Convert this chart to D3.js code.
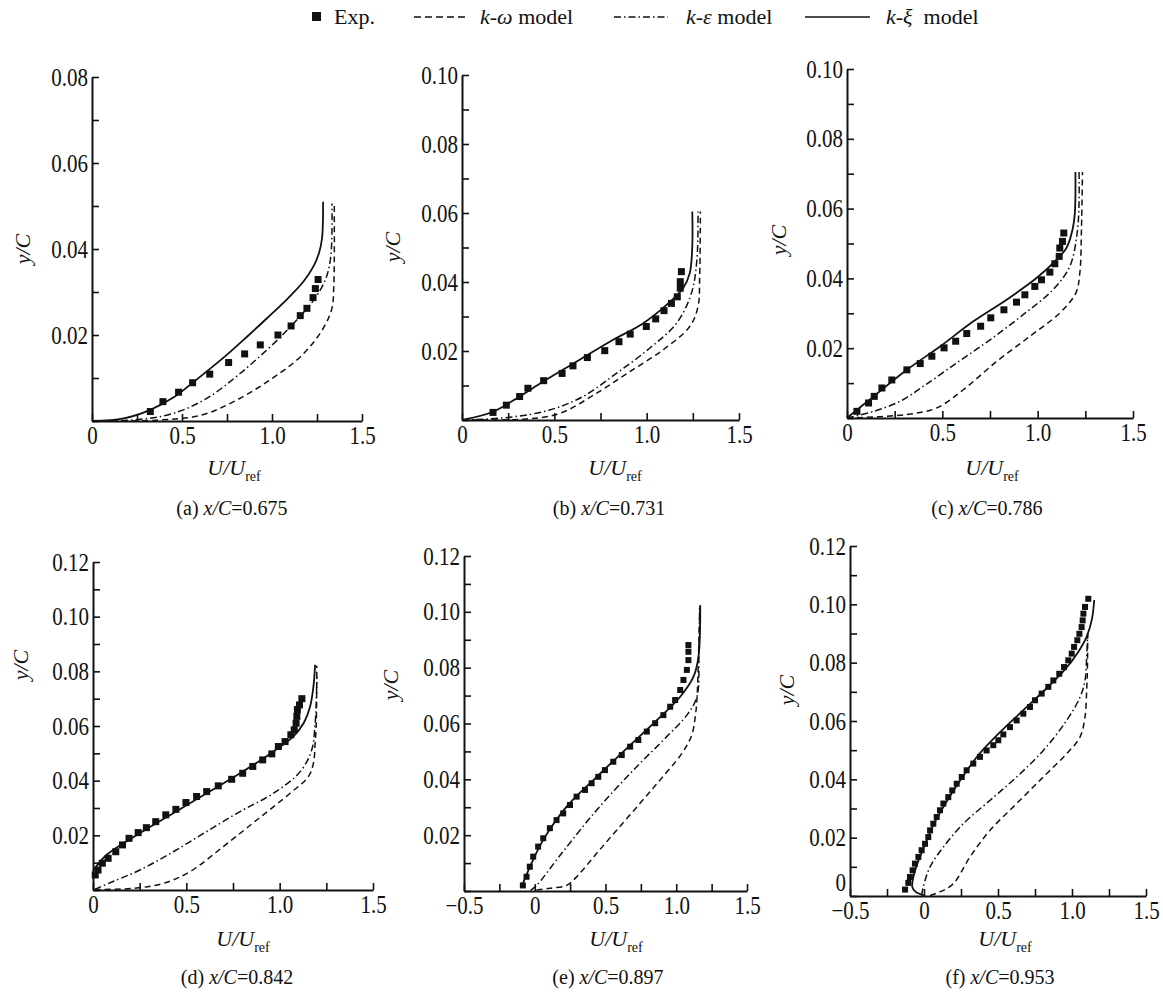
<!DOCTYPE html>
<html>
<head>
<meta charset="utf-8">
<script src="https://cdn.jsdelivr.net/npm/d3@7"></script>
<style>
  body { margin: 0; background: #fff; }
  svg { display: block; }
  text { font-family: "Liberation Serif", "Times New Roman", serif; fill: #111; }
</style>
</head>
<body>
<svg id="chart"></svg>
<script>
// ---- data: [U/Uref, y/C] pairs ----
// (a) x/C = 0.675
const expA = [[0.324,0.0022],[0.394,0.0045],[0.481,0.0067],[0.559,0.0089],[0.654,0.0109],[0.759,0.0136],[0.848,0.0156],[0.935,0.0177],[1.033,0.0200],[1.106,0.0221],[1.157,0.0245],[1.194,0.0262],[1.228,0.0287],[1.241,0.0308],[1.256,0.0329]];
const kwA = [[0,0],[0.361,0.0002],[0.602,0.0013],[0.787,0.0045],[0.972,0.0091],[1.157,0.0149],[1.278,0.0211],[1.333,0.0262],[1.343,0.0312],[1.346,0.0374],[1.346,0.0506]];
const keA = [[0,0],[0.269,0.0004],[0.454,0.0018],[0.639,0.0053],[0.824,0.0111],[1.009,0.0180],[1.120,0.0227],[1.231,0.0281],[1.296,0.0328],[1.324,0.0374],[1.333,0.0436],[1.333,0.0506]];
const kxA = [[0,0],[0.176,0.0006],[0.324,0.0026],[0.454,0.0055],[0.565,0.0091],[0.660,0.0123],[0.760,0.0158],[0.861,0.0196],[0.972,0.0239],[1.083,0.0283],[1.176,0.0325],[1.231,0.0360],[1.262,0.0392],[1.278,0.0425],[1.283,0.0467],[1.284,0.0510]];

// (b) x/C = 0.731
const expB = [[0.168,0.0022],[0.240,0.0043],[0.312,0.0068],[0.357,0.0092],[0.442,0.0114],[0.542,0.0135],[0.601,0.0157],[0.679,0.0181],[0.773,0.0201],[0.850,0.0227],[0.911,0.0249],[0.998,0.0271],[1.049,0.0293],[1.094,0.0317],[1.134,0.0338],[1.166,0.0357],[1.182,0.0382],[1.182,0.0401],[1.188,0.0430]];
const kwB = [[0,0],[0.348,0.0003],[0.529,0.0019],[0.727,0.0077],[0.908,0.0140],[1.088,0.0203],[1.233,0.0271],[1.278,0.0329],[1.287,0.0415],[1.291,0.0604]];
const keB = [[0,0],[0.258,0.0008],[0.475,0.0029],[0.655,0.0068],[0.836,0.0135],[1.016,0.0208],[1.161,0.0280],[1.242,0.0367],[1.272,0.0464],[1.278,0.0604]];
const kxB = [[0,0],[0.168,0.0024],[0.312,0.0068],[0.438,0.0111],[0.619,0.0169],[0.800,0.0227],[0.980,0.0280],[1.106,0.0333],[1.197,0.0382],[1.233,0.0425],[1.247,0.0502],[1.247,0.0604]];

// (c) x/C = 0.786
const expC = [[0.052,0.0019],[0.113,0.0043],[0.143,0.0062],[0.183,0.0086],[0.235,0.0109],[0.314,0.0138],[0.384,0.0156],[0.445,0.0177],[0.509,0.0201],[0.570,0.0220],[0.628,0.0242],[0.701,0.0263],[0.754,0.0287],[0.823,0.0310],[0.889,0.0332],[0.933,0.0353],[0.985,0.0377],[1.020,0.0396],[1.064,0.0418],[1.090,0.0442],[1.113,0.0463],[1.116,0.0487],[1.130,0.0506],[1.137,0.0530]];
const kwC = [[0,0],[0.314,0.0010],[0.471,0.0029],[0.610,0.0081],[0.785,0.0162],[0.959,0.0234],[1.116,0.0301],[1.200,0.0358],[1.221,0.0415],[1.230,0.0549],[1.235,0.0705]];
const keC = [[0,0],[0.140,0.0019],[0.279,0.0048],[0.401,0.0091],[0.576,0.0158],[0.750,0.0224],[0.924,0.0296],[1.081,0.0368],[1.169,0.0435],[1.207,0.0530],[1.217,0.0616],[1.217,0.0705]];
const kxC = [[0,0],[0.140,0.0062],[0.314,0.0138],[0.488,0.0205],[0.663,0.0277],[0.837,0.0339],[0.994,0.0401],[1.099,0.0454],[1.151,0.0487],[1.183,0.0540],[1.195,0.0587],[1.198,0.0705]];

// (d) x/C = 0.842
const expD = [[0.012,0.0055],[0.027,0.0073],[0.050,0.0098],[0.081,0.0116],[0.122,0.0140],[0.158,0.0165],[0.193,0.0189],[0.242,0.0210],[0.286,0.0228],[0.336,0.0250],[0.390,0.0275],[0.444,0.0295],[0.498,0.0320],[0.555,0.0342],[0.609,0.0360],[0.671,0.0381],[0.743,0.0405],[0.802,0.0427],[0.856,0.0452],[0.909,0.0476],[0.958,0.0498],[0.993,0.0525],[1.029,0.0543],[1.060,0.0568],[1.078,0.0586],[1.088,0.0610],[1.092,0.0635],[1.095,0.0660],[1.106,0.0677],[1.119,0.0700]];
const kwD = [[0.009,0.0002],[0.215,0.0006],[0.376,0.0024],[0.519,0.0067],[0.698,0.0159],[0.877,0.0256],[1.056,0.0354],[1.154,0.0415],[1.181,0.0464],[1.190,0.0537],[1.196,0.0610],[1.199,0.0820]];
const keD = [[0.009,0.0002],[0.107,0.0031],[0.251,0.0073],[0.430,0.0140],[0.609,0.0214],[0.788,0.0287],[0.967,0.0354],[1.110,0.0433],[1.172,0.0513],[1.190,0.0610],[1.196,0.0684],[1.199,0.0780]];
const kxD = [[0.000,0.0070],[0.072,0.0128],[0.251,0.0208],[0.430,0.0281],[0.609,0.0354],[0.788,0.0427],[0.967,0.0507],[1.074,0.0562],[1.128,0.0610],[1.163,0.0671],[1.181,0.0745],[1.190,0.0824]];

// (e) x/C = 0.897
const expE = [[-0.084,0.0020],[-0.058,0.0051],[-0.035,0.0087],[-0.011,0.0123],[0.024,0.0159],[0.060,0.0189],[0.107,0.0225],[0.154,0.0254],[0.201,0.0278],[0.249,0.0308],[0.296,0.0338],[0.355,0.0362],[0.402,0.0386],[0.449,0.0409],[0.496,0.0433],[0.555,0.0463],[0.615,0.0487],[0.674,0.0517],[0.732,0.0541],[0.792,0.0571],[0.851,0.0601],[0.909,0.0630],[0.957,0.0660],[0.992,0.0684],[1.028,0.0720],[1.051,0.0756],[1.075,0.0792],[1.086,0.0827],[1.086,0.0857],[1.086,0.0881]];
const kwE = [[0.012,0.0004],[0.107,0.0010],[0.225,0.0020],[0.307,0.0057],[0.438,0.0135],[0.579,0.0218],[0.744,0.0314],[0.886,0.0398],[1.040,0.0493],[1.110,0.0559],[1.134,0.0624],[1.146,0.0684],[1.164,0.0959],[1.169,0.1018]];
const keE = [[-0.030,0.0002],[0.013,0.0020],[0.190,0.0135],[0.438,0.0290],[0.697,0.0433],[0.933,0.0553],[1.075,0.0630],[1.146,0.0696],[1.160,0.0850],[1.165,0.1020]];
const kxE = [[-0.093,0.0015],[-0.023,0.0099],[0.060,0.0183],[0.225,0.0302],[0.438,0.0409],[0.650,0.0511],[0.863,0.0612],[1.028,0.0696],[1.122,0.0768],[1.157,0.0839],[1.169,0.0959],[1.169,0.1024]];

// (f) x/C = 0.953
const expF = [[-0.128,0.0022],[-0.106,0.0045],[-0.095,0.0065],[-0.077,0.0088],[-0.061,0.0111],[-0.038,0.0134],[-0.016,0.0157],[0.007,0.0179],[0.029,0.0202],[0.041,0.0225],[0.063,0.0248],[0.086,0.0271],[0.108,0.0294],[0.131,0.0317],[0.164,0.0339],[0.191,0.0362],[0.221,0.0385],[0.255,0.0408],[0.288,0.0431],[0.333,0.0454],[0.378,0.0477],[0.423,0.0499],[0.468,0.0517],[0.502,0.0534],[0.536,0.0554],[0.581,0.0579],[0.626,0.0602],[0.671,0.0625],[0.716,0.0648],[0.750,0.0671],[0.795,0.0694],[0.840,0.0717],[0.874,0.0739],[0.914,0.0762],[0.946,0.0785],[0.975,0.0808],[0.998,0.0831],[1.014,0.0854],[1.036,0.0877],[1.050,0.0899],[1.065,0.0922],[1.072,0.0945],[1.077,0.0968],[1.088,0.0991],[1.110,0.1019]];
const kwF = [[0.041,0.0002],[0.108,0.0014],[0.198,0.0042],[0.311,0.0134],[0.446,0.0225],[0.626,0.0317],[0.806,0.0408],[0.964,0.0488],[1.054,0.0545],[1.088,0.0614],[1.099,0.0705],[1.104,0.0774],[1.106,0.0899]];
const keF = [[-0.016,0.0002],[-0.005,0.0031],[0.041,0.0100],[0.131,0.0168],[0.266,0.0248],[0.446,0.0328],[0.626,0.0408],[0.806,0.0499],[0.964,0.0602],[1.054,0.0682],[1.088,0.0739],[1.099,0.0819],[1.106,0.0900]];
const kxF = [[0.000,0.0002],[-0.056,0.0014],[-0.079,0.0031],[-0.072,0.0065],[-0.045,0.0111],[0.000,0.0168],[0.068,0.0248],[0.158,0.0328],[0.260,0.0408],[0.370,0.0485],[0.500,0.0555],[0.660,0.0632],[0.820,0.0708],[0.950,0.0775],[1.040,0.0835],[1.100,0.0890],[1.135,0.0950],[1.150,0.1015]];

const tags = ["a", "b", "c", "d", "e", "f"];
const stations = ["0.675", "0.731", "0.786", "0.842", "0.897", "0.953"];
const xDomains = [[0, 1.5], [0, 1.5], [0, 1.5], [0, 1.5], [-0.5, 1.5], [-0.5, 1.5]];
const yTops = [0.08, 0.10, 0.10, 0.12, 0.12, 0.12];
const expSets = [expA, expB, expC, expD, expE, expF];
const kwSets = [kwA, kwB, kwC, kwD, kwE, kwF];
const keSets = [keA, keB, keC, keD, keE, keF];
const kxSets = [kxA, kxB, kxC, kxD, kxE, kxF];

// ---- layout (pixel frames of each sub-plot) ----
const frames = [
  { L: 92,  R: 362,  T: 77,  B: 421, yl: [22, 249],  tx: 234,  ty: 475, cx: 232,  cy: 515, sq: 7, zeroY: false },
  { L: 462, R: 739,  T: 75,  B: 420, yl: [392, 247], tx: 615,  ty: 475, cx: 609,  cy: 515, sq: 7, zeroY: false },
  { L: 847, R: 1133, T: 69,  B: 418, yl: [778, 240], tx: 992,  ty: 475, cx: 987,  cy: 515, sq: 7, zeroY: false },
  { L: 93,  R: 373,  T: 562, B: 890, yl: [20, 665],  tx: 243,  ty: 946, cx: 237,  cy: 984, sq: 7, zeroY: false },
  { L: 464, R: 747,  T: 556, B: 891, yl: [390, 685], tx: 616,  ty: 946, cx: 608,  cy: 984, sq: 6, zeroY: false },
  { L: 850, R: 1146, T: 546, B: 896, yl: [786, 690], tx: 1005, ty: 946, cx: 1000, cy: 984, sq: 6, zeroY: true }
];

const svg = d3.select("#chart").attr("width", 1163).attr("height", 994);

// ---- legend ----
const legendG = svg.append("g");
legendG.append("rect").attr("x", 312).attr("y", 12).attr("width", 9).attr("height", 9).attr("fill", "#111");
legendG.append("text").attr("x", 334).attr("y", 24).attr("font-size", 22).text("Exp.");
const legendItems = [
  { x1: 414, x2: 468, dash: "7,4", tx: 480, greek: "ω" },
  { x1: 614, x2: 668, dash: "7,3,1.5,3", tx: 686, greek: "ε" },
  { x1: 805, x2: 870, dash: null, tx: 886, greek: "ξ" }
];
legendItems.forEach((d) => {
  legendG.append("line")
    .attr("x1", d.x1).attr("x2", d.x2).attr("y1", 17).attr("y2", 17)
    .attr("stroke", "#111").attr("stroke-width", 1.7)
    .attr("stroke-dasharray", d.dash);
  const t = legendG.append("text").attr("x", d.tx).attr("y", 24).attr("font-size", 22);
  t.append("tspan").attr("font-style", "italic").text("k");
  t.append("tspan").text("-");
  t.append("tspan").attr("font-style", "italic").text(d.greek);
  t.append("tspan").text(d.greek === "ξ" ? "\u00a0 model" : " model");
});

// ---- panels ----
tags.forEach((tag, i) => {
  const f = frames[i];
  const x = d3.scaleLinear().domain(xDomains[i]).range([f.L, f.R]);
  const y = d3.scaleLinear().domain([0, yTops[i]]).range([f.B, f.T]);
  const g = svg.append("g");

  // y axis: ticks every 0.01, labels every 0.02
  const yTicks = d3.range(0, Math.round(yTops[i] / 0.01) + 1).map((k) => k * 0.01);
  const yAxis = d3.axisLeft(y)
    .tickValues(yTicks)
    .tickSize(-7).tickSizeOuter(0).tickPadding(4)
    .tickFormat((d, k) => (k % 2 ? "" : k === 0 ? (f.zeroY ? "0" : "") : d3.format(".2f")(d)));
  const yG = g.append("g").attr("transform", `translate(${f.L},0)`).call(yAxis);

  // x axis: ticks every 0.25, labels every 0.5
  const x0 = Math.round(xDomains[i][0] * 4), x1 = Math.round(xDomains[i][1] * 4);
  const xTicks = d3.range(x0, x1 + 1).map((k) => k / 4);
  const xAxis = d3.axisBottom(x)
    .tickValues(xTicks)
    .tickSize(-7).tickSizeOuter(0).tickPadding(4)
    .tickFormat((d) => (Math.round(d * 4) % 2 ? "" : d === 0 ? "0" : d3.format(".1f")(d)));
  const xG = g.append("g").attr("transform", `translate(0,${f.B})`).call(xAxis);

  [yG, xG].forEach((ax) => {
    ax.select(".domain").attr("stroke", "#111").attr("stroke-width", 2);
    ax.selectAll(".tick line").attr("stroke", "#111").attr("stroke-width", 1.6);
    ax.selectAll(".tick text")
      .attr("font-size", 21)
      .attr("fill", "#111")
      .attr("transform", "scale(1,1.2)");
  });
  // the y "0" label sits just above the x tick labels
  yG.selectAll(".tick text").filter((d) => d === 0).attr("dy", "-0.2em");

  // model curves
  const line = d3.line()
    .x((d) => x(d[0]))
    .y((d) => y(d[1]))
    .curve(d3.curveCatmullRom.alpha(0.5));
  const curves = [
    { data: kwSets[i], dash: "6,4", w: 1.5 },
    { data: keSets[i], dash: "7,3,1.5,3", w: 1.5 },
    { data: kxSets[i], dash: null, w: 1.8 }
  ];
  g.selectAll(".curve")
    .data(curves)
    .join("path")
    .attr("class", "curve")
    .attr("d", (d) => line(d.data))
    .attr("fill", "none")
    .attr("stroke", "#111")
    .attr("stroke-width", (d) => d.w)
    .attr("stroke-dasharray", (d) => d.dash);

  // experiment squares
  g.selectAll(".exp")
    .data(expSets[i])
    .join("rect")
    .attr("class", "exp")
    .attr("x", (d) => x(d[0]) - f.sq / 2)
    .attr("y", (d) => y(d[1]) - f.sq / 2)
    .attr("width", f.sq)
    .attr("height", f.sq)
    .attr("fill", "#111");

  // y label
  g.append("text")
    .attr("transform", `translate(${f.yl[0]},${f.yl[1]}) rotate(-90)`)
    .attr("text-anchor", "middle")
    .attr("dy", "0.35em")
    .attr("font-size", 22)
    .attr("font-style", "italic")
    .text("y/C");

  // x title U/U_ref
  const xt = g.append("text")
    .attr("x", f.tx).attr("y", f.ty)
    .attr("text-anchor", "middle")
    .attr("font-size", 22);
  xt.append("tspan").attr("font-style", "italic").text("U/U");
  xt.append("tspan").attr("font-size", 14).attr("dy", 6).text("ref");

  // caption
  const cap = g.append("text")
    .attr("x", f.cx).attr("y", f.cy)
    .attr("text-anchor", "middle")
    .attr("font-size", 20);
  cap.append("tspan").text(`(${tag}) `);
  cap.append("tspan").attr("font-style", "italic").text("x/C");
  cap.append("tspan").text(`=${stations[i]}`);
});
</script>
</body>
</html>
